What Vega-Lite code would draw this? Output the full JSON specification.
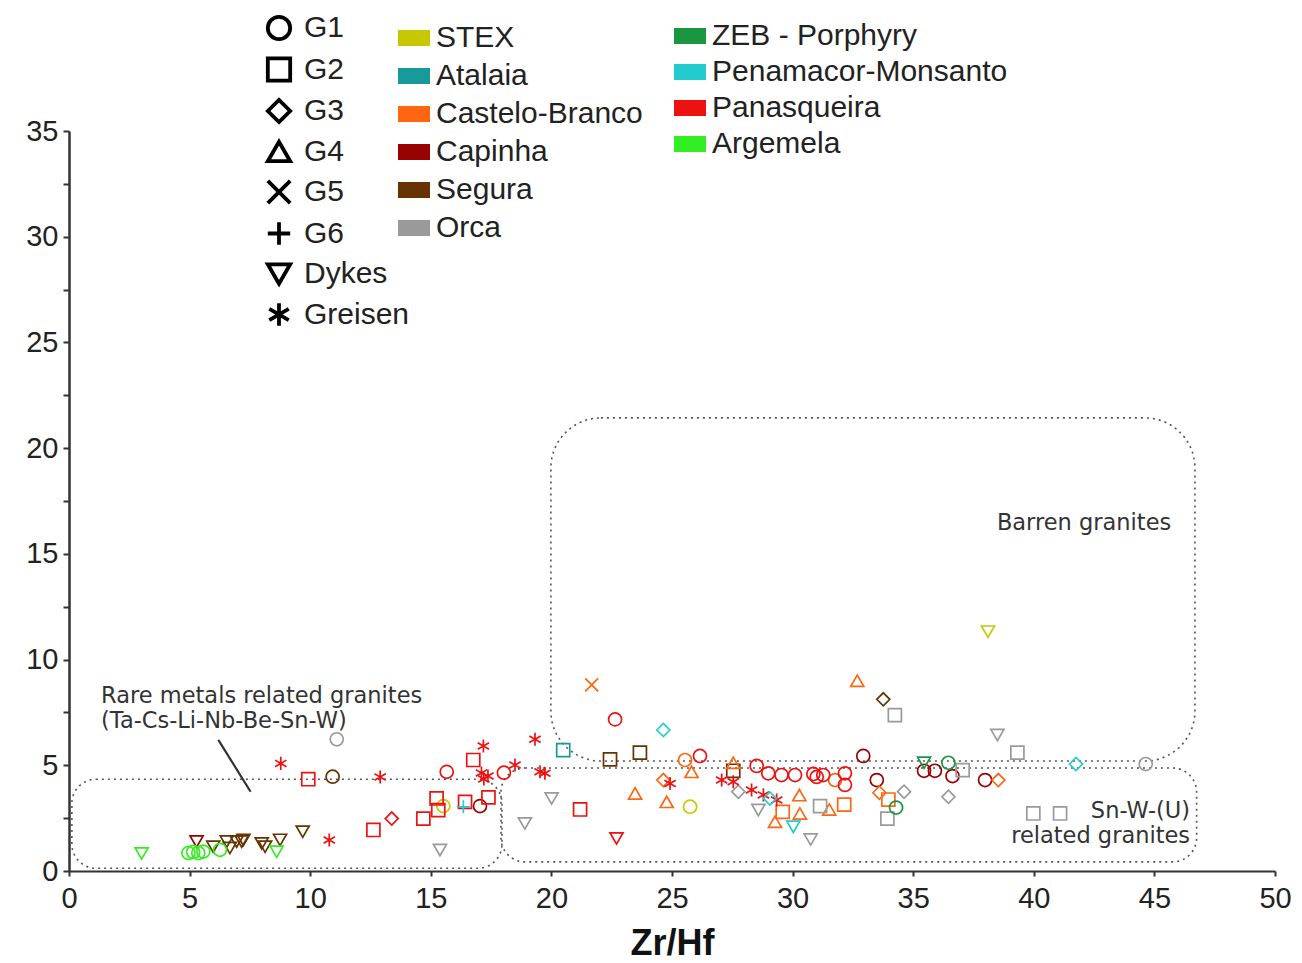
{
  "$schema": "https://vega.github.io/schema/vega-lite/v6.json",
  "width": 1206,
  "height": 740,
  "autosize": "none",
  "padding": {"left": 69, "top": 131, "right": 27, "bottom": 92},
  "background": "white",
  "config": {
    "view": {"stroke": null},
    "axis": {
      "grid": false,
      "domainColor": "#333",
      "tickColor": "#333",
      "labelFont": "Liberation Sans",
      "labelFontSize": 29,
      "labelColor": "#222",
      "labelFlush": false,
      "titleFont": "Liberation Sans",
      "titleColor": "#111"
    },
    "legend": {
      "labelFont": "Liberation Sans",
      "labelFontSize": 30,
      "labelColor": "#222",
      "labelLimit": 500,
      "padding": 0
    }
  },
  "datasets": {
    "samples": [
      {"zrhf": 3.01, "y": 0.83, "granite": "Argemela", "group": "Dykes"},
      {"zrhf": 8.61, "y": 0.91, "granite": "Argemela", "group": "Dykes"},
      {"zrhf": 4.95, "y": 0.85, "granite": "Argemela", "group": "G1"},
      {"zrhf": 5.15, "y": 0.9, "granite": "Argemela", "group": "G1"},
      {"zrhf": 5.36, "y": 0.85, "granite": "Argemela", "group": "G1"},
      {"zrhf": 5.57, "y": 0.92, "granite": "Argemela", "group": "G1"},
      {"zrhf": 6.26, "y": 1.0, "granite": "Argemela", "group": "G1"},

      {"zrhf": 10.93, "y": 4.46, "granite": "Segura", "group": "G1"},
      {"zrhf": 9.69, "y": 1.86, "granite": "Segura", "group": "Dykes"},
      {"zrhf": 5.98, "y": 1.15, "granite": "Segura", "group": "Dykes"},
      {"zrhf": 6.54, "y": 1.39, "granite": "Segura", "group": "Dykes"},
      {"zrhf": 6.67, "y": 1.09, "granite": "Segura", "group": "Dykes"},
      {"zrhf": 6.95, "y": 1.39, "granite": "Segura", "group": "Dykes"},
      {"zrhf": 7.16, "y": 1.39, "granite": "Segura", "group": "Dykes"},
      {"zrhf": 7.23, "y": 1.47, "granite": "Segura", "group": "Dykes"},
      {"zrhf": 7.99, "y": 1.3, "granite": "Segura", "group": "Dykes"},
      {"zrhf": 8.13, "y": 1.15, "granite": "Segura", "group": "Dykes"},
      {"zrhf": 8.75, "y": 1.47, "granite": "Segura", "group": "Dykes"},
      {"zrhf": 22.43, "y": 5.28, "granite": "Segura", "group": "G2"},
      {"zrhf": 23.67, "y": 5.6, "granite": "Segura", "group": "G2"},
      {"zrhf": 27.54, "y": 4.74, "granite": "Segura", "group": "G2"},
      {"zrhf": 33.76, "y": 8.12, "granite": "Segura", "group": "G3"},

      {"zrhf": 5.29, "y": 1.39, "granite": "Capinha", "group": "Dykes"},
      {"zrhf": 17.04, "y": 3.07, "granite": "Capinha", "group": "G1"},
      {"zrhf": 32.93, "y": 5.44, "granite": "Capinha", "group": "G1"},
      {"zrhf": 33.49, "y": 4.3, "granite": "Capinha", "group": "G1"},
      {"zrhf": 35.45, "y": 4.74, "granite": "Capinha", "group": "G1"},
      {"zrhf": 35.9, "y": 4.74, "granite": "Capinha", "group": "G1"},
      {"zrhf": 36.63, "y": 4.49, "granite": "Capinha", "group": "G1"},
      {"zrhf": 37.98, "y": 4.3, "granite": "Capinha", "group": "G1"},

      {"zrhf": 8.78, "y": 5.09, "granite": "Panasqueira", "group": "Greisen"},
      {"zrhf": 12.9, "y": 4.45, "granite": "Panasqueira", "group": "Greisen"},
      {"zrhf": 10.79, "y": 1.47, "granite": "Panasqueira", "group": "Greisen"},
      {"zrhf": 17.18, "y": 5.91, "granite": "Panasqueira", "group": "Greisen"},
      {"zrhf": 17.1, "y": 4.64, "granite": "Panasqueira", "group": "Greisen"},
      {"zrhf": 17.37, "y": 4.49, "granite": "Panasqueira", "group": "Greisen"},
      {"zrhf": 17.2, "y": 4.35, "granite": "Panasqueira", "group": "Greisen"},
      {"zrhf": 18.49, "y": 5.01, "granite": "Panasqueira", "group": "Greisen"},
      {"zrhf": 19.32, "y": 6.23, "granite": "Panasqueira", "group": "Greisen"},
      {"zrhf": 19.53, "y": 4.69, "granite": "Panasqueira", "group": "Greisen"},
      {"zrhf": 19.73, "y": 4.62, "granite": "Panasqueira", "group": "Greisen"},
      {"zrhf": 24.92, "y": 4.14, "granite": "Panasqueira", "group": "Greisen"},
      {"zrhf": 27.06, "y": 4.3, "granite": "Panasqueira", "group": "Greisen"},
      {"zrhf": 27.54, "y": 4.22, "granite": "Panasqueira", "group": "Greisen"},
      {"zrhf": 28.3, "y": 3.83, "granite": "Panasqueira", "group": "Greisen"},
      {"zrhf": 28.79, "y": 3.6, "granite": "Panasqueira", "group": "Greisen"},
      {"zrhf": 29.34, "y": 3.36, "granite": "Panasqueira", "group": "Greisen"},
      {"zrhf": 9.92, "y": 4.34, "granite": "Panasqueira", "group": "G2"},
      {"zrhf": 12.62, "y": 1.94, "granite": "Panasqueira", "group": "G2"},
      {"zrhf": 14.69, "y": 2.48, "granite": "Panasqueira", "group": "G2"},
      {"zrhf": 15.24, "y": 3.43, "granite": "Panasqueira", "group": "G2"},
      {"zrhf": 15.31, "y": 2.88, "granite": "Panasqueira", "group": "G2"},
      {"zrhf": 16.42, "y": 3.27, "granite": "Panasqueira", "group": "G2"},
      {"zrhf": 16.76, "y": 5.25, "granite": "Panasqueira", "group": "G2"},
      {"zrhf": 17.39, "y": 3.48, "granite": "Panasqueira", "group": "G2"},
      {"zrhf": 21.19, "y": 2.91, "granite": "Panasqueira", "group": "G2"},
      {"zrhf": 13.38, "y": 2.48, "granite": "Panasqueira", "group": "G3"},
      {"zrhf": 15.66, "y": 4.69, "granite": "Panasqueira", "group": "G1"},
      {"zrhf": 18.03, "y": 4.65, "granite": "Panasqueira", "group": "G1"},
      {"zrhf": 22.64, "y": 7.17, "granite": "Panasqueira", "group": "G1"},
      {"zrhf": 26.16, "y": 5.44, "granite": "Panasqueira", "group": "G1"},
      {"zrhf": 28.51, "y": 4.97, "granite": "Panasqueira", "group": "G1"},
      {"zrhf": 28.99, "y": 4.62, "granite": "Panasqueira", "group": "G1"},
      {"zrhf": 29.54, "y": 4.54, "granite": "Panasqueira", "group": "G1"},
      {"zrhf": 30.1, "y": 4.54, "granite": "Panasqueira", "group": "G1"},
      {"zrhf": 30.86, "y": 4.59, "granite": "Panasqueira", "group": "G1"},
      {"zrhf": 31.27, "y": 4.54, "granite": "Panasqueira", "group": "G1"},
      {"zrhf": 31.0, "y": 4.45, "granite": "Panasqueira", "group": "G1"},
      {"zrhf": 32.17, "y": 4.62, "granite": "Panasqueira", "group": "G1"},
      {"zrhf": 32.17, "y": 4.07, "granite": "Panasqueira", "group": "G1"},
      {"zrhf": 22.7, "y": 1.54, "granite": "Panasqueira", "group": "Dykes"},

      {"zrhf": 21.67, "y": 8.8, "granite": "Castelo-Branco", "group": "G5"},
      {"zrhf": 25.54, "y": 5.25, "granite": "Castelo-Branco", "group": "G1"},
      {"zrhf": 31.76, "y": 4.3, "granite": "Castelo-Branco", "group": "G1"},
      {"zrhf": 25.81, "y": 4.69, "granite": "Castelo-Branco", "group": "G4"},
      {"zrhf": 27.54, "y": 5.12, "granite": "Castelo-Branco", "group": "G4"},
      {"zrhf": 23.47, "y": 3.67, "granite": "Castelo-Branco", "group": "G4"},
      {"zrhf": 24.78, "y": 3.27, "granite": "Castelo-Branco", "group": "G4"},
      {"zrhf": 29.27, "y": 2.33, "granite": "Castelo-Branco", "group": "G4"},
      {"zrhf": 30.28, "y": 3.59, "granite": "Castelo-Branco", "group": "G4"},
      {"zrhf": 30.3, "y": 2.72, "granite": "Castelo-Branco", "group": "G4"},
      {"zrhf": 31.52, "y": 2.91, "granite": "Castelo-Branco", "group": "G4"},
      {"zrhf": 32.68, "y": 9.0, "granite": "Castelo-Branco", "group": "G4"},
      {"zrhf": 24.64, "y": 4.3, "granite": "Castelo-Branco", "group": "G3"},
      {"zrhf": 33.6, "y": 3.7, "granite": "Castelo-Branco", "group": "G3"},
      {"zrhf": 38.53, "y": 4.3, "granite": "Castelo-Branco", "group": "G3"},
      {"zrhf": 29.59, "y": 2.8, "granite": "Castelo-Branco", "group": "G2"},
      {"zrhf": 32.14, "y": 3.14, "granite": "Castelo-Branco", "group": "G2"},
      {"zrhf": 33.97, "y": 3.38, "granite": "Castelo-Branco", "group": "G2"},

      {"zrhf": 15.52, "y": 3.07, "granite": "STEX", "group": "G1"},
      {"zrhf": 25.75, "y": 3.04, "granite": "STEX", "group": "G1"},
      {"zrhf": 38.1, "y": 11.32, "granite": "STEX", "group": "Dykes"},

      {"zrhf": 20.49, "y": 5.72, "granite": "Atalaia", "group": "G2"},

      {"zrhf": 24.64, "y": 6.67, "granite": "Penamacor-Monsanto", "group": "G3"},
      {"zrhf": 29.06, "y": 3.43, "granite": "Penamacor-Monsanto", "group": "G3"},
      {"zrhf": 41.75, "y": 5.06, "granite": "Penamacor-Monsanto", "group": "G3"},
      {"zrhf": 30.03, "y": 2.09, "granite": "Penamacor-Monsanto", "group": "Dykes"},
      {"zrhf": 16.35, "y": 3.04, "granite": "Penamacor-Monsanto", "group": "G6"},

      {"zrhf": 35.45, "y": 5.12, "granite": "ZEB - Porphyry", "group": "Dykes"},
      {"zrhf": 36.46, "y": 5.12, "granite": "ZEB - Porphyry", "group": "G1"},
      {"zrhf": 34.29, "y": 3.0, "granite": "ZEB - Porphyry", "group": "G1"},

      {"zrhf": 11.1, "y": 6.23, "granite": "Orca", "group": "G1"},
      {"zrhf": 44.64, "y": 5.06, "granite": "Orca", "group": "G1"},
      {"zrhf": 15.38, "y": 0.99, "granite": "Orca", "group": "Dykes"},
      {"zrhf": 18.9, "y": 2.25, "granite": "Orca", "group": "Dykes"},
      {"zrhf": 20.01, "y": 3.43, "granite": "Orca", "group": "Dykes"},
      {"zrhf": 28.58, "y": 2.88, "granite": "Orca", "group": "Dykes"},
      {"zrhf": 30.75, "y": 1.49, "granite": "Orca", "group": "Dykes"},
      {"zrhf": 38.49, "y": 6.43, "granite": "Orca", "group": "Dykes"},
      {"zrhf": 27.75, "y": 3.75, "granite": "Orca", "group": "G3"},
      {"zrhf": 34.62, "y": 3.75, "granite": "Orca", "group": "G3"},
      {"zrhf": 36.46, "y": 3.51, "granite": "Orca", "group": "G3"},
      {"zrhf": 31.14, "y": 3.07, "granite": "Orca", "group": "G2"},
      {"zrhf": 33.93, "y": 2.48, "granite": "Orca", "group": "G2"},
      {"zrhf": 34.24, "y": 7.37, "granite": "Orca", "group": "G2"},
      {"zrhf": 37.05, "y": 4.77, "granite": "Orca", "group": "G2"},
      {"zrhf": 39.32, "y": 5.6, "granite": "Orca", "group": "G2"},
      {"zrhf": 39.98, "y": 2.72, "granite": "Orca", "group": "G2"},
      {"zrhf": 41.09, "y": 2.72, "granite": "Orca", "group": "G2"}
    ],
    "barren": [
      {"x1": 19.98, "x2": 46.68, "y1": 5.2, "y2": 21.43}
    ],
    "fields": [
      {"x1": 0.12, "x2": 17.95, "y1": 0.13, "y2": 4.34},
      {"x1": 17.91, "x2": 46.75, "y1": 0.43, "y2": 4.87}
    ],
    "pointer": [
      {"x1": 6.19, "y1": 6.2, "x2": 7.53, "y2": 3.75}
    ],
    "notesLeft": [
      {"x": 1.33, "y": 8.28, "text": "Rare metals related granites"},
      {"x": 1.33, "y": 7.1, "text": "(Ta-Cs-Li-Nb-Be-Sn-W)"},
      {"x": 38.47, "y": 16.46, "text": "Barren granites"}
    ],
    "notesRight": [
      {"x": 46.48, "y": 2.84, "text": "Sn-W-(U)"},
      {"x": 46.48, "y": 1.66, "text": "related granites"}
    ]
  },
  "layer": [
    {
      "data": {"name": "barren"},
      "mark": {"type": "rect", "fill": null, "stroke": "#555", "strokeWidth": 1.6, "strokeDash": [2, 4], "cornerRadius": 50},
      "encoding": {
        "x": {"field": "x1", "type": "quantitative", "scale": {"domain": [0, 50], "nice": false, "zero": false}},
        "x2": {"field": "x2"},
        "y": {"field": "y1", "type": "quantitative", "scale": {"domain": [0, 35], "nice": false, "zero": false}},
        "y2": {"field": "y2"}
      }
    },
    {
      "data": {"name": "fields"},
      "mark": {"type": "rect", "fill": null, "stroke": "#555", "strokeWidth": 1.6, "strokeDash": [2, 4], "cornerRadius": 24},
      "encoding": {
        "x": {"field": "x1", "type": "quantitative"},
        "x2": {"field": "x2"},
        "y": {"field": "y1", "type": "quantitative"},
        "y2": {"field": "y2"}
      }
    },
    {
      "data": {"name": "pointer"},
      "mark": {"type": "rule", "color": "#333", "strokeWidth": 2.2},
      "encoding": {
        "x": {"field": "x1", "type": "quantitative"},
        "y": {"field": "y1", "type": "quantitative"},
        "x2": {"field": "x2"},
        "y2": {"field": "y2"}
      }
    },
    {
      "data": {"name": "notesLeft"},
      "mark": {"type": "text", "align": "left", "baseline": "middle", "font": "DejaVu Sans", "fontSize": 22.5, "color": "#333"},
      "encoding": {
        "x": {"field": "x", "type": "quantitative"},
        "y": {"field": "y", "type": "quantitative"},
        "text": {"field": "text"}
      }
    },
    {
      "data": {"name": "notesRight"},
      "mark": {"type": "text", "align": "right", "baseline": "middle", "font": "DejaVu Sans", "fontSize": 22.5, "color": "#333"},
      "encoding": {
        "x": {"field": "x", "type": "quantitative"},
        "y": {"field": "y", "type": "quantitative"},
        "text": {"field": "text"}
      }
    },
    {
      "description": "Key of the first six granite bodies, drawn as filled swatches; the marks themselves stay transparent.",
      "data": {"name": "samples"},
      "transform": [
        {"filter": {"field": "granite", "oneOf": ["STEX", "Atalaia", "Castelo-Branco", "Capinha", "Segura", "Orca"]}}
      ],
      "mark": {"type": "point", "filled": true, "opacity": 0, "size": 10},
      "encoding": {
        "x": {"field": "zrhf", "type": "quantitative"},
        "y": {"field": "y", "type": "quantitative"},
        "fill": {
          "field": "granite", "type": "nominal",
          "scale": {
            "domain": ["STEX", "Atalaia", "Castelo-Branco", "Capinha", "Segura", "Orca"],
            "range": ["#c8c800", "#199a9a", "#ff6611", "#990000", "#663300", "#9a9a9a"]
          },
          "legend": {
            "title": null, "orient": "none", "legendX": 329, "legendY": -109,
            "symbolType": "M-1,-0.5H1V0.5H-1Z", "symbolSize": 1024, "symbolStrokeWidth": 0, "symbolOpacity": 1,
            "rowPadding": 7, "labelOffset": 6
          }
        }
      }
    },
    {
      "description": "Key of the remaining four granite bodies.",
      "data": {"name": "samples"},
      "transform": [
        {"filter": {"field": "granite", "oneOf": ["ZEB - Porphyry", "Penamacor-Monsanto", "Panasqueira", "Argemela"]}}
      ],
      "mark": {"type": "point", "filled": true, "opacity": 0, "size": 10},
      "encoding": {
        "x": {"field": "zrhf", "type": "quantitative"},
        "y": {"field": "y", "type": "quantitative"},
        "fill": {
          "field": "granite", "type": "nominal",
          "scale": {
            "domain": ["ZEB - Porphyry", "Penamacor-Monsanto", "Panasqueira", "Argemela"],
            "range": ["#1a9641", "#22cccc", "#ee1111", "#33ee22"]
          },
          "legend": {
            "title": null, "orient": "none", "legendX": 605, "legendY": -111,
            "symbolType": "M-1,-0.5H1V0.5H-1Z", "symbolSize": 1024, "symbolStrokeWidth": 0, "symbolOpacity": 1,
            "rowPadding": 5, "labelOffset": 6
          }
        }
      }
    },
    {
      "data": {"name": "samples"},
      "transform": [
        {"filter": {"field": "granite", "oneOf": ["STEX", "Atalaia", "Castelo-Branco", "Capinha", "Segura", "Orca"]}}
      ],
      "mark": {"type": "point", "filled": false, "strokeWidth": 1.7, "size": 170, "opacity": 1},
      "encoding": {
        "x": {
          "field": "zrhf", "type": "quantitative", "title": "Zr/Hf",
          "axis": {
            "values": [0, 5, 10, 15, 20, 25, 30, 35, 40, 45, 50],
            "domainWidth": 2, "tickWidth": 2, "tickSize": 5, "labelPadding": 8,
            "titleFontSize": 36, "titleFontWeight": "bold", "titlePadding": 13
          }
        },
        "y": {
          "field": "y", "type": "quantitative", "title": null,
          "axis": {
            "values": [0, 2.5, 5, 7.5, 10, 12.5, 15, 17.5, 20, 22.5, 25, 27.5, 30, 32.5, 35],
            "labelExpr": "datum.value % 5 === 0 ? datum.label : ''",
            "domainWidth": 2.5, "tickWidth": 2, "tickSize": 6, "labelPadding": 5
          }
        },
        "stroke": {
          "field": "granite", "type": "nominal",
          "scale": {
            "domain": ["STEX", "Atalaia", "Castelo-Branco", "Capinha", "Segura", "Orca"],
            "range": ["#c8c800", "#199a9a", "#ff6611", "#990000", "#663300", "#9a9a9a"]
          },
          "legend": null
        },
        "shape": {
          "field": "group", "type": "nominal",
          "scale": {
            "domain": ["G1", "G2", "G3", "G4", "G5", "G6", "Dykes", "Greisen"],
            "range": ["circle", "square", "diamond", "triangle-up", "M-1,-1L1,1M-1,1L1,-1", "M-1,0H1M0,-1V1", "triangle-down", "M0,-1V1M-0.87,-0.5L0.87,0.5M-0.87,0.5L0.87,-0.5"]
          },
          "legend": {
            "title": null, "orient": "none", "legendX": 195, "legendY": -118,
            "symbolSize": 500, "symbolStrokeWidth": 3.8, "symbolStrokeColor": "#000", "symbolFillColor": "transparent",
            "rowPadding": 3.5, "labelOffset": 10
          }
        }
      }
    },
    {
      "data": {"name": "samples"},
      "transform": [
        {"filter": {"field": "granite", "oneOf": ["ZEB - Porphyry", "Penamacor-Monsanto", "Panasqueira", "Argemela"]}}
      ],
      "mark": {"type": "point", "filled": false, "strokeWidth": 1.7, "size": 170, "opacity": 1},
      "encoding": {
        "x": {"field": "zrhf", "type": "quantitative"},
        "y": {"field": "y", "type": "quantitative"},
        "stroke": {
          "field": "granite", "type": "nominal",
          "scale": {
            "domain": ["ZEB - Porphyry", "Penamacor-Monsanto", "Panasqueira", "Argemela"],
            "range": ["#1a9641", "#22cccc", "#ee1111", "#33ee22"]
          },
          "legend": null
        },
        "shape": {
          "field": "group", "type": "nominal",
          "scale": {
            "domain": ["G1", "G2", "G3", "G4", "G5", "G6", "Dykes", "Greisen"],
            "range": ["circle", "square", "diamond", "triangle-up", "M-1,-1L1,1M-1,1L1,-1", "M-1,0H1M0,-1V1", "triangle-down", "M0,-1V1M-0.87,-0.5L0.87,0.5M-0.87,0.5L0.87,-0.5"]
          },
          "legend": {
            "title": null, "orient": "none", "legendX": 195, "legendY": -118,
            "symbolSize": 500, "symbolStrokeWidth": 3.8, "symbolStrokeColor": "#000", "symbolFillColor": "transparent",
            "rowPadding": 3.5, "labelOffset": 10
          }
        }
      }
    }
  ],
  "resolve": {
    "scale": {"stroke": "independent", "fill": "independent"},
    "legend": {"fill": "independent"}
  }
}
